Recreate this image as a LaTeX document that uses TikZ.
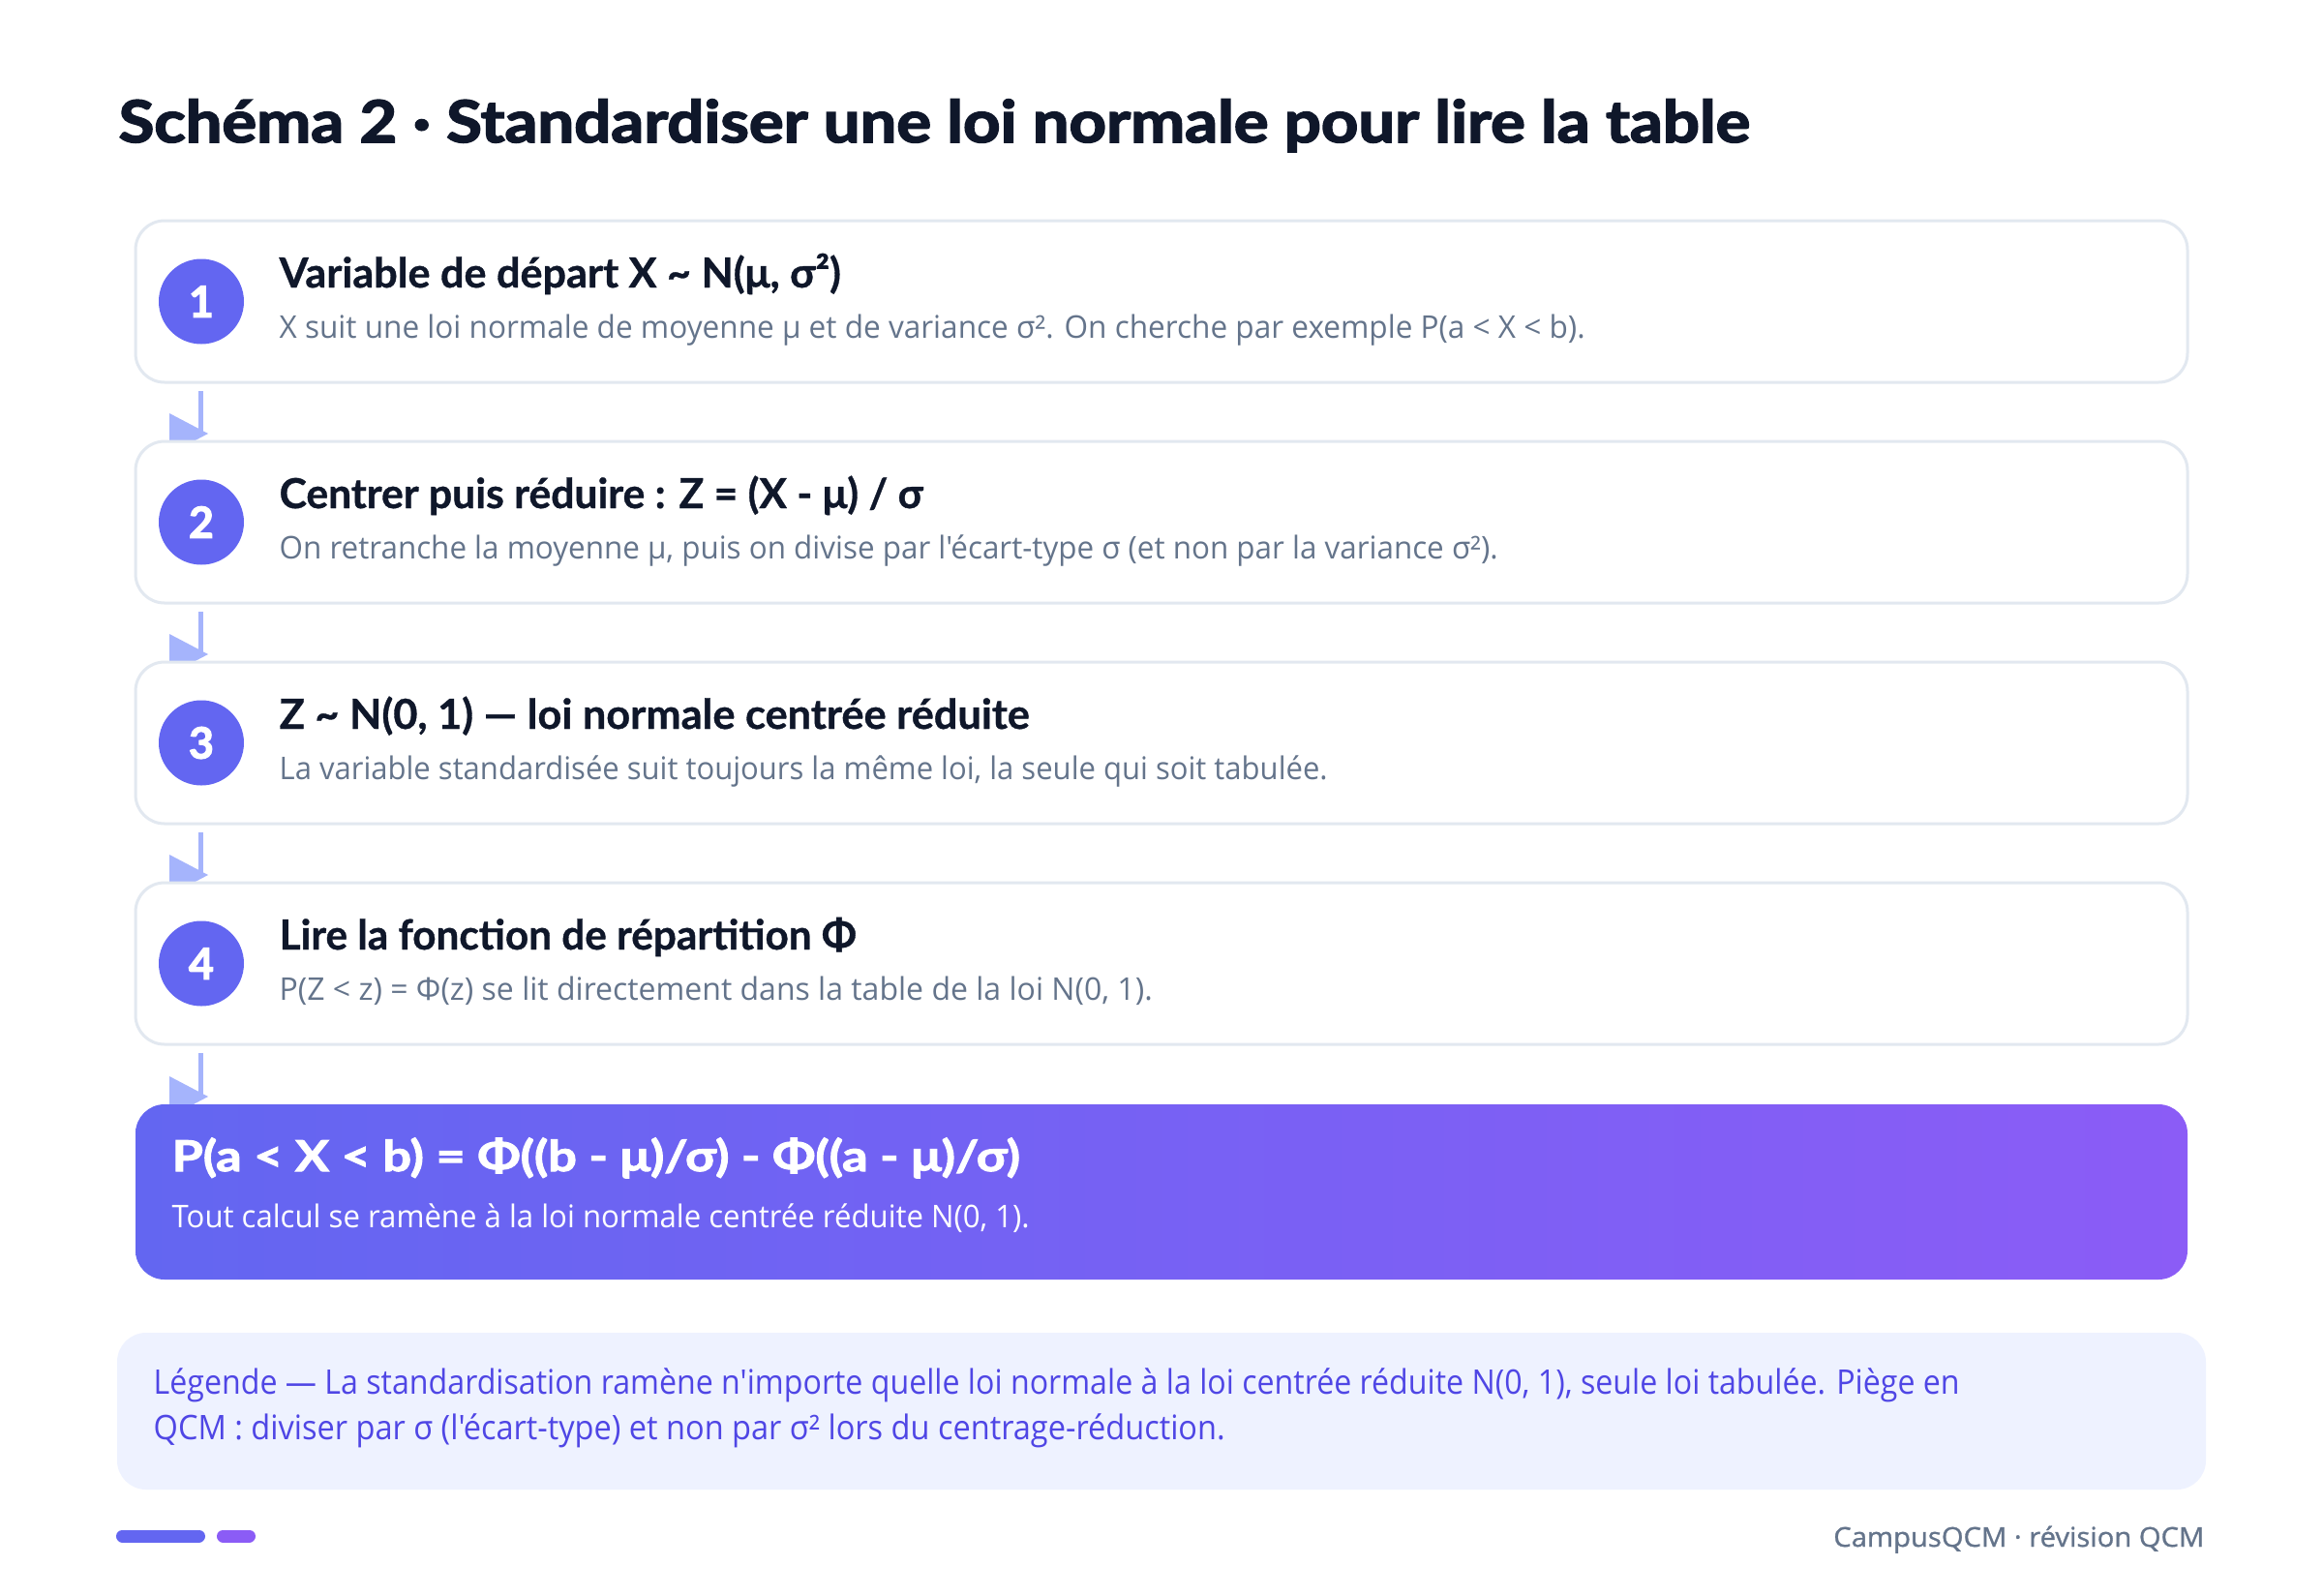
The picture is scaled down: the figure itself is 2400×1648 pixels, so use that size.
\documentclass[tikz,border=0pt]{standalone}
\usepackage{fontspec}
\usepackage{graphicx}
\setmainfont{Open Sans}[Ligatures=TeXOff]
\newfontfamily\heavyfont{Lato}[Ligatures=TeXOff,BoldFeatures={FakeBold=2.6}]
\newfontfamily\boldttl{Lato}[Ligatures=TeXOff,BoldFeatures={FakeBold=0.8}]
\newfontfamily\midheavy{Lato}[Ligatures=TeXOff,BoldFeatures={FakeBold=2.2}]
\newfontfamily\semifont{Open Sans}[Ligatures=TeXOff,FakeBold=1]
\usetikzlibrary{calc}
\pgfdeclarelayer{bg}
\pgfsetlayers{bg,main}
\definecolor{ink}{HTML}{0F172A}
\definecolor{slate}{HTML}{64748B}
\definecolor{indigo}{HTML}{6366F1}
\definecolor{violet}{HTML}{8B5CF6}
\definecolor{cardline}{HTML}{E2E8F0}
\definecolor{arrowc}{HTML}{A5B4FC}
\definecolor{legendbg}{HTML}{EEF2FF}
\definecolor{legendtx}{HTML}{4F46E5}
\newcommand\fitw[2]{\resizebox{#1}{\height}{#2}}
\tikzset{
  card/.style={rectangle, draw=cardline, line width=0.9pt, fill=white, rounded corners=9pt,
    minimum width=636pt, minimum height=50.1pt, inner sep=0pt, outer sep=0pt},
  finalcard/.style={rectangle, left color=indigo, right color=violet, rounded corners=9pt,
    minimum width=636pt, minimum height=54.3pt, inner sep=0pt, outer sep=0pt},
  numdot/.style={circle, fill=indigo, minimum size=26.4pt, inner sep=0pt, text=white,
    font=\heavyfont\fontsize{13.4}{16}\selectfont\bfseries},
  ttl/.style={anchor=base west, inner sep=0pt, text=ink, font=\boldttl\fontsize{12.8}{16}\selectfont\bfseries},
  subtx/.style={anchor=base west, inner sep=0pt, text=slate, font=\fontsize{9.7}{12}\selectfont},
  conn/.style={draw=arrowc, line width=1.5pt},
  legtx/.style={anchor=base west, inner sep=0pt, text=legendtx, font=\fontsize{10.5}{13}\selectfont},
}
\begin{document}
\begin{tikzpicture}[x=0.3pt,y=-0.3pt]
\useasboundingbox (0,0) rectangle (2400,1648);
\begin{pgfonlayer}{bg}
\fill[white] (0,0) rectangle (2400,1648);
\end{pgfonlayer}

% heading
\node[anchor=base west, inner sep=0pt, text=ink, font=\heavyfont\fontsize{18}{22}\selectfont\bfseries]
  (head) at (122,147) {\fitw{505.5pt}{Schéma 2 · Standardiser une loi normale pour lire la table}};

% cards
\node[card] (b1) at (1200,311.5) {};
\node[card] (b2) at (1200,539.5) {};
\node[card] (b3) at (1200,767.5) {};
\node[card] (b4) at (1200,995.5) {};
\node[finalcard] (b5) at (1200,1231.5) {};

% number dots
\node[numdot] (n1) at (208,311.5) {1};
\node[numdot] (n2) at (208,539.5) {2};
\node[numdot] (n3) at (208,767.5) {3};
\node[numdot] (n4) at (208,995.5) {4};

% texts
\node[ttl] (t1) at (288,297) {\fitw{174pt}{Variable de départ X \textasciitilde\ N(μ, σ²)}};
\node[subtx] (s1) at (288,349) {\fitw{404.7pt}{X suit une loi normale de moyenne μ et de variance σ². On cherche par exemple P(a < X < b).}};
\node[ttl] (t2) at (288,525) {\fitw{199.5pt}{Centrer puis réduire : Z = (X - μ) / σ}};
\node[subtx] (s2) at (288,577) {\fitw{377.7pt}{On retranche la moyenne μ, puis on divise par l'écart-type σ (et non par la variance σ²).}};
\node[ttl] (t3) at (288,753) {\fitw{232.5pt}{Z \textasciitilde\ N(0, 1) — loi normale centrée réduite}};
\node[subtx] (s3) at (288,805) {\fitw{324.9pt}{La variable standardisée suit toujours la même loi, la seule qui soit tabulée.}};
\node[ttl] (t4) at (288,981) {\fitw{178.8pt}{Lire la fonction de répartition Φ}};
\node[subtx] (s4) at (288,1033) {\fitw{270.6pt}{P(Z < z) = Φ(z) se lit directement dans la table de la loi N(0, 1).}};
\node[anchor=base west, inner sep=0pt, text=white, font=\midheavy\fontsize{13.2}{16}\selectfont\bfseries]
  (t5) at (177,1210) {\fitw{262.8pt}{P(a < X < b) = Φ((b - μ)/σ) - Φ((a - μ)/σ)}};
\node[anchor=base west, inner sep=0pt, text=white, font=\fontsize{9.7}{12}\selectfont]
  (s5) at (177,1268) {\fitw{265.8pt}{Tout calcul se ramène à la loi normale centrée réduite N(0, 1).}};

% connectors
\begin{pgfonlayer}{bg}
\foreach \a/\b in {b1/b2,b2/b3,b3/b4,b4/b5}{
  \draw[conn] ($(\a.south west)+(67,9)$) -- ($(\b.north west)+(67,-8)$) coordinate (e);
  \fill[arrowc] ($(e)+(8,0)$) -- ++(-40,-21) -- ++(0,42) -- cycle;
}
\end{pgfonlayer}

% legend
\node[rectangle, fill=legendbg, rounded corners=9pt, minimum width=647.4pt, minimum height=48.6pt,
  inner sep=0pt] (leg) at (1200,1458) {};
\node[legtx] (l1) at (158,1440) {\fitw{559.8pt}{Légende — La standardisation ramène n'importe quelle loi normale à la loi centrée réduite N(0, 1), seule loi tabulée. Piège en}};
\node[legtx] (l2) at (158,1487) {\fitw{332.1pt}{QCM : diviser par σ (l'écart-type) et non par σ² lors du centrage-réduction.}};

% footer
\draw[indigo, line width=3.9pt, line cap=round] (126.5,1587) -- (205.5,1587);
\draw[violet, line width=3.9pt, line cap=round] (230.5,1587) -- (257.5,1587);
\node[anchor=base east, inner sep=0pt, text=slate, font=\semifont\fontsize{8.4}{10}\selectfont]
  (foot) at (2278,1598) {\fitw{114.9pt}{CampusQCM · révision QCM}};
\end{tikzpicture}
\end{document}
